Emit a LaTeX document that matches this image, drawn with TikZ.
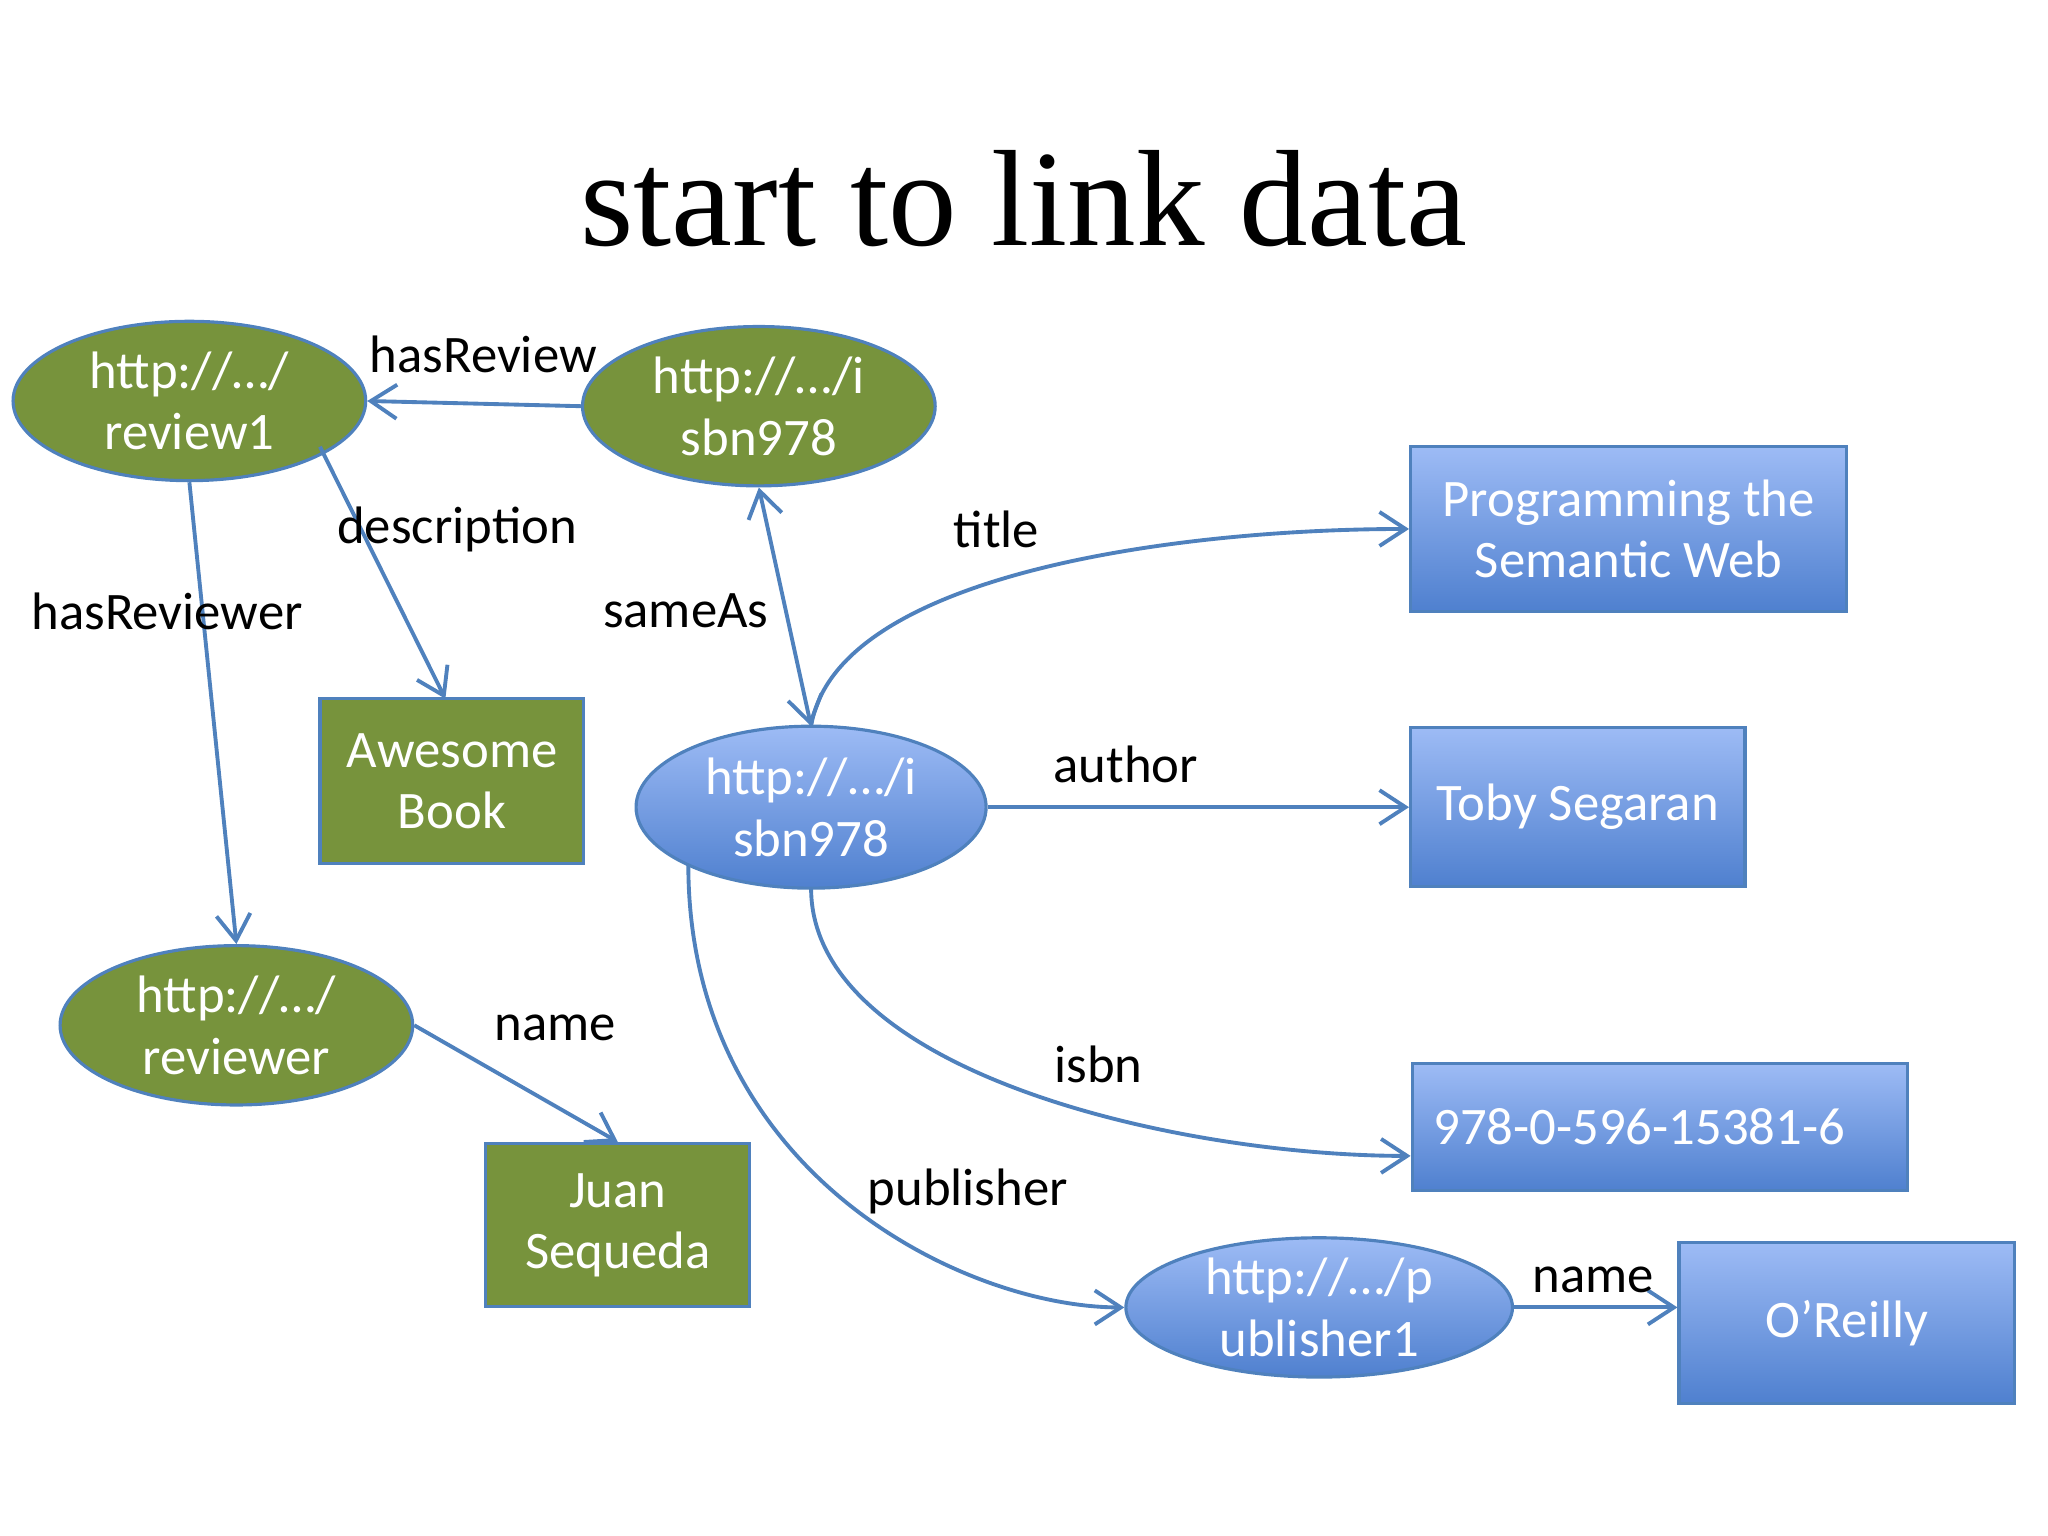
\documentclass[tikz,border=0pt]{standalone}
\usepackage{fontspec}
\setmainfont{Carlito}
\newfontfamily\titlefont{Liberation Serif}
\usetikzlibrary{shapes.geometric,arrows.meta}
\definecolor{grn}{HTML}{77933C}
\definecolor{edge}{HTML}{4F81BD}
\definecolor{btop}{HTML}{9DBBF5}
\definecolor{bbot}{HTML}{4F80CF}
\newcommand\pxu{0.013061cm}
\begin{document}
\begin{tikzpicture}[x=0.013061cm,y=-0.013061cm,
  every node/.style={font=\fontsize{15}{17.5}\selectfont},
  sz/.style 2 args={minimum width=#1*\pxu,minimum height=#2*\pxu},
  gell/.style={ellipse,fill=grn,draw=edge,line width=0.9pt,text=white,align=center,inner sep=0pt},
  bell/.style={ellipse,top color=btop,bottom color=bbot,draw=edge,line width=0.9pt,text=white,align=center,inner sep=0pt},
  grect/.style={rectangle,fill=grn,draw=edge,line width=0.9pt,text=white,align=center,inner sep=0pt},
  brect/.style={rectangle,top color=btop,bottom color=bbot,draw=edge,line width=0.9pt,text=white,align=center,inner sep=0pt},
  arr/.style={draw=edge,line width=1.1pt,-{Straight Barb[length=2.6mm,width=3.4mm]}},
  lab/.style={text=black}]
\useasboundingbox (0,0) rectangle (1568,1176);
\node[font=\titlefont\fontsize{39}{44}\selectfont] (title) at (784,152) {start to link data};
\node[gell,sz={270}{122}] (rev1) at (145,307) {http://…/\\review1};
\node[gell,sz={270}{122}] (isbnG) at (581,311) {http://…/i\\sbn978};
\node[grect,sz={202}{126}] (book) at (346,598) {Awesome\\Book};
\node[gell,sz={270}{122}] (rever) at (181,785) {http://…/\\reviewer};
\node[grect,sz={202}{125}] (juan) at (473,938) {Juan\\Sequeda};
\node[bell,sz={268}{124}] (isbnB) at (621,618) {http://…/i\\sbn978};
\node[brect,sz={334}{126}] (prog) at (1247,405) {Programming the\\Semantic Web};
\node[brect,sz={256}{122}] (toby) at (1208,618) {Toby Segaran};
\node[brect,sz={379}{97},align=left,anchor=west,text width=379*\pxu] (isbnL) at (1080,863) {\hspace*{6pt}978-0-596-15381-6};
\node[bell,sz={296}{98}] (pub) at (1010,1001) {http://…/p\\ublisher1};
\node[brect,sz={257}{123}] (orei) at (1414,1013) {O’Reilly};
\coordinate (isbnBtop) at (621,556);
\coordinate (isbnBbot) at (621,680);
\coordinate (isbnBsw) at (527,662);
\coordinate (rse) at (245,342);
\coordinate (bookn) at (341,535);
\draw[arr] (isbnG.west) -- (rev1.east);
\node[lab] (l1) at (370,271) {hasReview};
\draw[arr] (rse) -- (bookn);
\node[lab] (l2) at (350,405) {description};
\draw[arr] (rev1.south) -- (rever.north);
\node[lab] (l3) at (128,468) {hasReviewer};
\draw[arr,{Straight Barb[length=2.6mm,width=3.4mm]}-{Straight Barb[length=2.6mm,width=3.4mm]}] (isbnG.south) -- (isbnBtop);
\node[lab] (l4) at (525,468) {sameAs};
\draw[arr] (isbnBtop) .. controls (640,440) and (900,405) .. (prog.west);
\node[lab] (l5) at (763,405) {title};
\draw[arr] (isbnB.east) -- (toby.west);
\node[lab] (l6) at (862,585) {author};
\draw[arr] (isbnBbot) .. controls (621,820) and (900,885) .. (isbnL.west |- 0,885);
\node[lab] (l7) at (841,815) {isbn};
\draw[arr] (isbnBsw) .. controls (527,900) and (740,1001) .. (pub.west);
\node[lab] (l8) at (741,912) {publisher};
\draw[arr] (pub.east) -- (orei.west |- pub.east);
\node[lab] (l9) at (1220,980) {name};
\draw[arr] (rever.east) -- (juan.north);
\node[lab] (l10) at (425,787) {name};
\end{tikzpicture}
\end{document}
